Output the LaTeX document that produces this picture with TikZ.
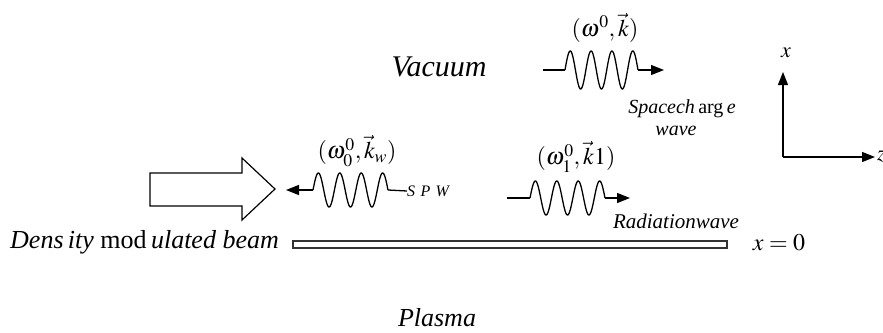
\documentclass[tikz,border=0pt]{standalone}
\usepackage{mathptmx}
\usepackage{fontspec}
\setmainfont{Liberation Serif}
\usetikzlibrary{arrows.meta}
\newcommand\mywave[4]{\draw[wline] plot[domain=0:21.991, samples=220, smooth] ({#1+\x/21.991*(#2-#1)}, {#3-#4*sin(\x r)});}
\begin{document}
\begin{tikzpicture}[x=1pt,y=-1pt,
  wline/.style={line width=1.3pt, black},
  tip/.style={-{Triangle[length=13pt,width=10pt]}},
  lbl/.style={inner sep=0pt, font=\fontsize{24}{28}\selectfont},
  big/.style={inner sep=0pt, font=\fontsize{26}{30}\selectfont\itshape},
  small/.style={inner sep=0pt, font=\fontsize{20}{24}\selectfont\itshape},
]
\useasboundingbox (0,0) rectangle (883,332);
\fill[white] (0,0) rectangle (883,332);

% texts
\node[inner sep=0pt, font=\fontsize{30}{34}\selectfont\itshape] (vac) at (439,67) {Vacuum};
\node[big] (plasma) at (437,318) {Plasma};
\node[inner sep=0pt, anchor=base west, font=\fontsize{26}{30}\selectfont\itshape] (dens) at (10,248) {Dens\,ity \textup{mod}\,ulated beam};
\node[lbl] (l1) at (605,28) {$(\omega^{0},\vec{k})$};
\node[lbl] (l2) at (357,151) {$(\omega_{0}^{0},\vec{k}_{w})$};
\node[lbl] (l3) at (576,157) {$(\omega_{1}^{0},\vec{k}1)$};
\node[small] (sc) at (682,109) {Spacech\,\textup{arg}\,e};
\node[small] (scw) at (676,131) {wave};
\node[inner sep=0pt, font=\fontsize{21}{24}\selectfont\itshape] (rad) at (676,221) {Radiationwave};
\node[inner sep=0pt, anchor=west, font=\fontsize{16}{18}\selectfont\itshape] (spw) at (407,191) {S\,\,P\,\,W};
\node[lbl] (x0) at (779,243) {$x=0$};

% top wave (space charge wave)
\coordinate (t0) at (543,70);
\coordinate (t1) at (565,70);
\coordinate (t2) at (638,70);
\coordinate (t3) at (664,70);
\draw[wline] (t0) -- (t1);
\mywave{565}{638}{70}{19}
\draw[wline, tip] (t2) -- (t3);

% SPW wave
\coordinate (s0) at (286,190);
\coordinate (s1) at (313,190);
\coordinate (s2) at (388,190);
\draw[wline, tip] (s1) -- (s0);
\mywave{313}{388}{190}{17}
\draw[wline] (s2) -- (spw.west);

% radiation wave
\coordinate (r0) at (507,198);
\coordinate (r1) at (530,198);
\coordinate (r2) at (605,198);
\coordinate (r3) at (630,198);
\draw[wline] (r0) -- (r1);
\mywave{530}{605}{198}{17}
\draw[wline, tip] (r2) -- (r3);

% big hollow arrow
\draw[line width=1.2pt, fill=white] (150,173) -- (242,173) -- (242,158) -- (275,189) -- (242,220) -- (242,206) -- (150,206) -- cycle;

% beam
\draw[line width=1.2pt, black!80] (293,241) rectangle (727,248);

% axes
\coordinate (o) at (783,157);
\coordinate (ax) at (783,72);
\coordinate (az) at (875,157);
\draw[wline, tip] (o) -- (ax);
\draw[wline, tip] (o) -- (az);
\node[inner sep=0pt, font=\fontsize{22}{26}\selectfont] (xl) at (786,53) {$x$};
\node[inner sep=0pt, anchor=west, font=\fontsize{22}{26}\selectfont] (zl) at (877,157) {$z$};
\end{tikzpicture}
\end{document}
